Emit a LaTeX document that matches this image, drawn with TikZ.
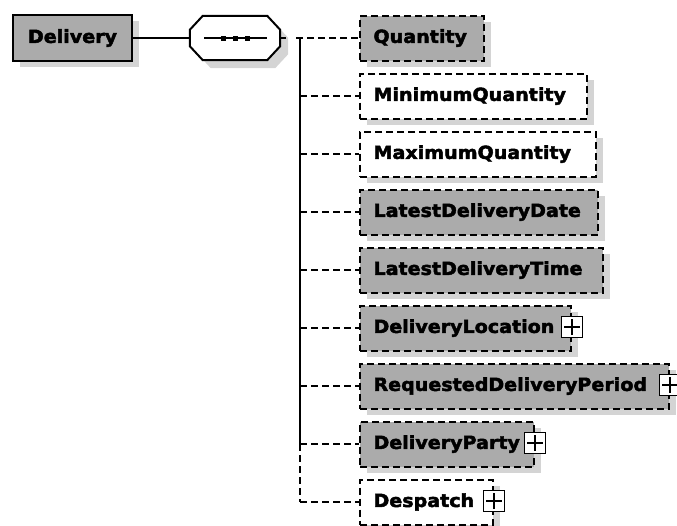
\documentclass[tikz,border=0pt]{standalone}
\usepackage{fontspec}
\newfontfamily\lblfont{DejaVu Sans Bold}[FakeStretch=1.06, FakeBold=2.5]
\usetikzlibrary{shadows}
\definecolor{boxgray}{RGB}{171,171,171}
\definecolor{shadowgray}{RGB}{212,212,212}
\tikzset{
  lbl/.style={font=\lblfont\fontsize{18}{21}\selectfont},
  shad/.style={drop shadow={shadow xshift=7pt, shadow yshift=-6pt, fill=shadowgray, draw=none, opacity=1}},
  elem/.style={lbl, shad, draw, anchor=west, minimum height=45pt, inner xsep=13.5pt, inner ysep=0pt,
    align=left, line width=2pt, dash pattern=on 7pt off 4pt},
  grayelem/.style={elem, fill=boxgray},
  whiteelem/.style={elem, fill=white},
  conn/.style={line width=2pt},
  dconn/.style={line width=2pt, dash pattern=on 7pt off 4pt},
  plusbox/.style={draw, solid, fill=white, line width=1.8pt, minimum size=21pt, inner sep=0pt,
    path picture={
      \draw[line width=1.8pt] ([xshift=-8pt]path picture bounding box.center) -- ([xshift=8pt]path picture bounding box.center);
      \draw[line width=1.8pt] ([yshift=-8pt]path picture bounding box.center) -- ([yshift=8pt]path picture bounding box.center);
    }},
  dotsq/.style={fill=black, minimum size=5pt, inner sep=0pt},
  octshape/.style={insert path={
      ([xshift=13pt]#1.north west) -- ([xshift=-13pt]#1.north east) -- ([yshift=-14pt]#1.north east)
      -- ([yshift=14pt]#1.south east) -- ([xshift=-13pt]#1.south east) -- ([xshift=13pt]#1.south west)
      -- ([yshift=14pt]#1.south west) -- ([yshift=-14pt]#1.north west) -- cycle}},
}
\begin{document}
\begin{tikzpicture}[x=1pt, y=-1pt]
\useasboundingbox (0,0) rectangle (677,525);

% root element
\node[lbl, shad, draw, fill=boxgray, line width=2pt, minimum width=119pt, minimum height=46pt, inner sep=0pt]
  (del) at (72.5,38) {Delivery};

% sequence compositor
\node[minimum width=90pt, minimum height=44pt, inner sep=0pt] (octsh) at (243,46) {};
\node[minimum width=90pt, minimum height=44pt, inner sep=0pt] (oct) at (235,38) {};
\fill[shadowgray, octshape=octsh];
\draw[line width=2pt, fill=white, octshape=oct];
\draw[line width=2pt] ([xshift=-31pt]oct.center) -- ([xshift=32pt]oct.center);
\node[dotsq] (d1) at ([xshift=-12pt]oct.center) {};
\node[dotsq] (d2) at (oct.center) {};
\node[dotsq] (d3) at ([xshift=12pt]oct.center) {};

\draw[conn] (del.east) -- (oct.west);
\coordinate (octout) at (286,38);
\draw[conn] (oct.east) -- (octout);

% children
\node[grayelem, text width=97pt]  (c0) at (359,38)  {Quantity};
\node[whiteelem, text width=200pt] (c1) at (359,96)  {MinimumQuantity};
\node[whiteelem, text width=209pt] (c2) at (359,154) {MaximumQuantity};
\node[grayelem, text width=211pt]  (c3) at (359,212) {LatestDeliveryDate};
\node[grayelem, text width=216pt]  (c4) at (359,270) {LatestDeliveryTime};
\node[grayelem, text width=184pt]  (c5) at (359,328) {DeliveryLocation};
\node[grayelem, text width=282pt]  (c6) at (359,386) {RequestedDeliveryPeriod};
\node[grayelem, text width=147pt]  (c7) at (359,444) {DeliveryParty};
\node[whiteelem, text width=106pt] (c8) at (359,502) {Despatch};

% expand boxes
\node[plusbox] (p5) at ([yshift=1pt]c5.east) {};
\node[plusbox] (p6) at ([yshift=1pt]c6.east) {};
\node[plusbox] (p7) at ([yshift=1pt]c7.east) {};
\node[plusbox] (p8) at ([yshift=1pt]c8.east) {};

% bar and connectors
\coordinate (q0) at (296,38);
\coordinate (j0) at (300,38);
\coordinate (j1) at (300,96);
\coordinate (j2) at (300,154);
\coordinate (j3) at (300,212);
\coordinate (j4) at (300,270);
\coordinate (j5) at (300,328);
\coordinate (j6) at (300,386);
\coordinate (j7) at (300,444);
\coordinate (j8) at (300,502);

\draw[conn] (j0) -- (j7);
\draw[dconn] (j7) -- (j8);
\draw[dconn] (q0) -- (c0.west);
\draw[dconn] (j1) -- (c1.west);
\draw[dconn] (j2) -- (c2.west);
\draw[dconn] (j3) -- (c3.west);
\draw[dconn] (j4) -- (c4.west);
\draw[dconn] (j5) -- (c5.west);
\draw[dconn] (j6) -- (c6.west);
\draw[dconn] (j7) -- (c7.west);
\draw[dconn] (j8) -- (c8.west);
\end{tikzpicture}
\end{document}
